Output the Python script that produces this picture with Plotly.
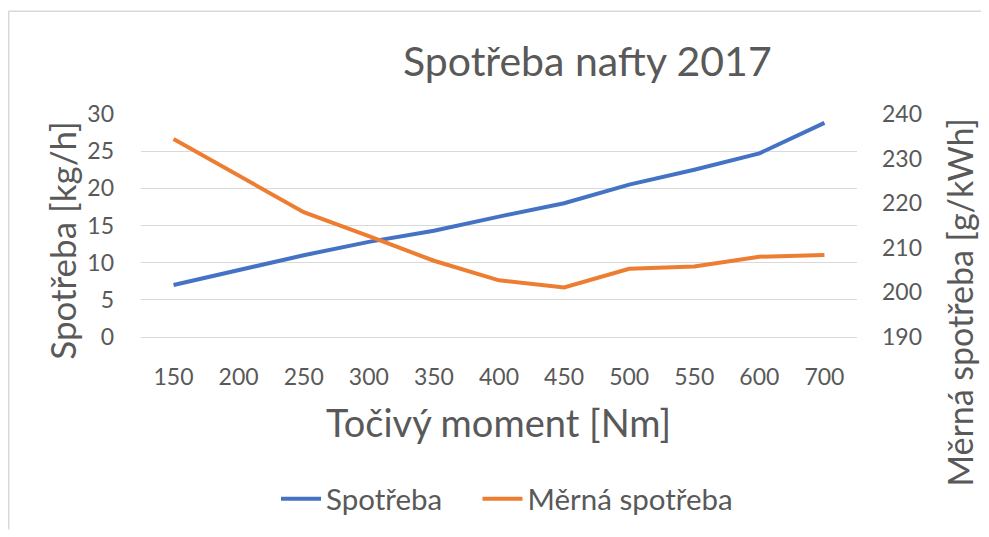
import plotly.graph_objects as go

torque = ["150", "200", "250", "300", "350", "400", "450", "500", "550", "600", "700"]
consumption = [7.0, 9.0, 11.0, 12.8, 14.3, 16.2, 18.0, 20.5, 22.5, 24.7, 28.8]
specific = [234.4, 226.2, 218.0, 212.6, 207.1, 202.7, 201.1, 205.3, 205.8, 208.0, 208.4]

FONT = "Lato"
TXT = "#595959"
GRID = "#d9d9d9"

fig = go.Figure()
fig.add_trace(go.Scatter(x=torque, y=consumption, name="Spotřeba", mode="lines",
                         line=dict(color="#4472C4", width=4), legend="legend"))
fig.add_trace(go.Scatter(x=torque, y=specific, name="Měrná spotřeba", mode="lines",
                         line=dict(color="#ED7D31", width=4), yaxis="y2", legend="legend2"))

# page body has an 8px margin; figure coordinates are offset accordingly
OFF = 8
W, H = 989 - OFF, 537 - OFF
L, T = 141 - OFF, 114 - OFF
R = W - (857 - OFF)
B = H - (341 - OFF)
pw, ph = W - L - R, H - T - B


def px(x):
    return (x - OFF - L) / pw


def py(y):
    return (H - B - (y - OFF)) / ph


TICKF = dict(size=23, color=TXT)
LEGF = dict(size=29.5, color=TXT)

fig.update_layout(
    width=W, height=H,
    margin=dict(l=L, r=R, t=T, b=B, pad=0),
    paper_bgcolor="white", plot_bgcolor="white",
    font=dict(family=FONT, color=TXT, size=23),
    showlegend=True,
    legend=dict(orientation="h", x=px(362), y=py(506), xanchor="center", yanchor="middle",
                font=LEGF, itemwidth=40),
    legend2=dict(orientation="h", x=px(608), y=py(506), xanchor="center", yanchor="middle",
                 font=LEGF, itemwidth=40),
    xaxis=dict(type="category", range=[-0.5, 10.5], showgrid=False, showline=True,
               linecolor=GRID, linewidth=1, ticks="", tickfont=TICKF,
               ticklabelstandoff=19, zeroline=False),
    yaxis=dict(range=[0, 30], dtick=5, showgrid=True, gridcolor=GRID, gridwidth=1,
               zeroline=False, showline=False, ticks="", tickfont=TICKF,
               ticklabelstandoff=26),
    yaxis2=dict(range=[190, 240], dtick=10, overlaying="y", side="right", showgrid=False,
                zeroline=False, showline=False, ticks="", tickfont=TICKF,
                ticklabelstandoff=24),
    annotations=[
        dict(text="Spotřeba nafty 2017", xref="paper", yref="paper", x=px(587), y=py(60),
             xanchor="center", yanchor="middle", showarrow=False, font=dict(size=41, color=TXT)),
        dict(text="Točivý moment [Nm]", xref="paper", yref="paper", x=px(498), y=py(428),
             xanchor="center", yanchor="middle", showarrow=False, font=dict(size=38, color=TXT)),
        dict(text="Spotřeba [kg/h]", xref="paper", yref="paper", x=px(62), y=py(243),
             xanchor="center", yanchor="middle", showarrow=False, textangle=-90,
             font=dict(size=35, color=TXT)),
        dict(text="Měrná spotřeba [g/kWh]", xref="paper", yref="paper", x=px(960), y=py(306),
             xanchor="center", yanchor="middle", showarrow=False, textangle=-90,
             font=dict(size=34, color=TXT)),
    ],
    shapes=[
        dict(type="line", xref="paper", yref="paper", x0=px(8.75), x1=px(989), y0=py(9.5), y1=py(9.5),
             line=dict(color=GRID, width=1.5)),
        dict(type="line", xref="paper", yref="paper", x0=px(8.75), x1=px(8.75), y0=py(9), y1=py(537),
             line=dict(color=GRID, width=1.5)),
    ],
)

fig.write_html("out.html")
